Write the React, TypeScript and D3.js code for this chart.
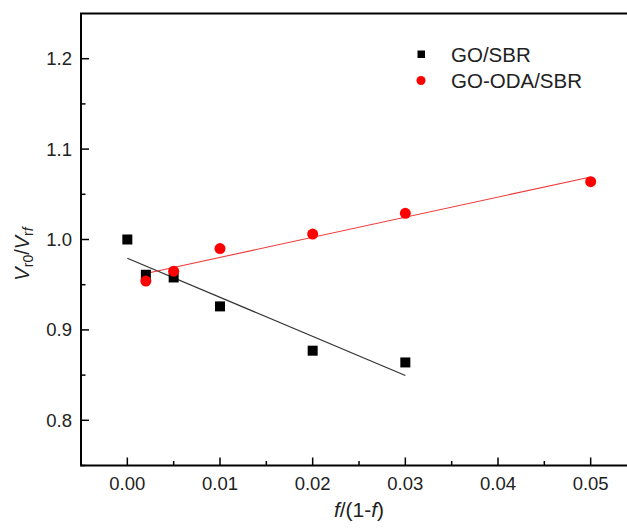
import React from "react";
import * as d3 from "d3";

const goX = [0, 0.002, 0.005, 0.01, 0.02, 0.03];
const goY = [1.0, 0.961, 0.958, 0.926, 0.877, 0.864];
const odaX = [0.002, 0.005, 0.01, 0.02, 0.03, 0.05];
const odaY = [0.954, 0.965, 0.99, 1.006, 1.029, 1.064];
const xTicks = [0, 0.01, 0.02, 0.03, 0.04, 0.05];
const xMinor = [-0.005, 0.005, 0.015, 0.025, 0.035, 0.045];
const yTicks = [0.8, 0.9, 1.0, 1.1, 1.2];
const yMinor = [0.75, 0.85, 0.95, 1.05, 1.15];
const seriesNames = ["GO/SBR", "GO-ODA/SBR"];

const W = 627;
const H = 528;
const FONT = "'Liberation Sans', Arial, sans-serif";

function fit(xs: number[], ys: number[]) {
  const mx = d3.mean(xs) as number;
  const my = d3.mean(ys) as number;
  let sxy = 0;
  let sxx = 0;
  xs.forEach((x, i) => {
    sxy += (x - mx) * (ys[i] - my);
    sxx += (x - mx) * (x - mx);
  });
  const b = sxy / sxx;
  const a = my - b * mx;
  const x0 = d3.min(xs) as number;
  const x1 = d3.max(xs) as number;
  return [
    [x0, a + b * x0],
    [x1, a + b * x1],
  ] as [number, number][];
}

export default function App() {
  const x = d3.scaleLinear().domain([-0.005, 0.055]).range([81, 637]);
  const y = d3.scaleLinear().domain([0.75, 1.25]).range([465.5, 13.5]);
  const line = d3
    .line<[number, number]>()
    .x((d) => x(d[0]))
    .y((d) => y(d[1]));
  const goFit = fit(goX, goY);
  const odaFit = fit(odaX, odaY);
  const x0 = x.range()[0];
  const y0 = y.range()[0];
  const y1 = y.range()[1];
  const xEdge = W + 2;

  return (
    <div
      style={{
        position: "fixed",
        left: 0,
        top: 0,
        width: W,
        height: H,
        overflow: "hidden",
        background: "#fff",
      }}
    >
      <svg
        width={W}
        height={H}
        style={{ display: "block", overflow: "hidden" }}
        fontFamily={FONT}
      >
        <rect x={0} y={0} width={W} height={H} fill="#fff" />
        {/* fit lines */}
        <path d={line(goFit) || ""} stroke="#333" strokeWidth={1.2} fill="none" />
        <path d={line(odaFit) || ""} stroke="#f03a3a" strokeWidth={1.1} fill="none" />
        {/* markers */}
        {goX.map((v, i) => (
          <rect
            key={"g" + i}
            x={x(v) - 5}
            y={y(goY[i]) - 5}
            width={10}
            height={10}
            fill="#000"
          />
        ))}
        {odaX.map((v, i) => (
          <circle key={"o" + i} cx={x(v)} cy={y(odaY[i])} r={5.5} fill="#ff0000" />
        ))}
        {/* frame: top, left, bottom (right edge lies outside the picture) */}
        <path
          d={`M${xEdge},${y1}H${x0}V${y0}H${xEdge}`}
          fill="none"
          stroke="#000"
          strokeWidth={2}
        />
        {/* x ticks */}
        {xTicks.map((t) => (
          <g key={"xt" + t}>
            <line x1={x(t)} x2={x(t)} y1={y0} y2={y0 - 8} stroke="#000" strokeWidth={1.5} />
            <text x={x(t)} y={490} textAnchor="middle" fontSize={18.5} fill="#222">
              {t.toFixed(2)}
            </text>
          </g>
        ))}
        {xMinor.map((t) => (
          <line key={"xm" + t} x1={x(t)} x2={x(t)} y1={y0} y2={y0 - 4.5} stroke="#000" strokeWidth={1.5} />
        ))}
        {/* y ticks */}
        {yTicks.map((t) => (
          <g key={"yt" + t}>
            <line x1={x0} x2={x0 + 8} y1={y(t)} y2={y(t)} stroke="#000" strokeWidth={1.5} />
            <text x={72} y={y(t)} dy="0.35em" textAnchor="end" fontSize={18.5} fill="#222">
              {t.toFixed(1)}
            </text>
          </g>
        ))}
        {yMinor.map((t) => (
          <line key={"ym" + t} x1={x0} x2={x0 + 4.5} y1={y(t)} y2={y(t)} stroke="#000" strokeWidth={1.5} />
        ))}
        {/* x title */}
        <text x={359} y={517} textAnchor="middle" fontSize={21} fill="#222">
          <tspan fontStyle="italic">f</tspan>
          <tspan>/(1-</tspan>
          <tspan fontStyle="italic">f</tspan>
          <tspan>)</tspan>
        </text>
        {/* y title */}
        <text
          transform={`translate(29,254) rotate(-90)`}
          textAnchor="middle"
          fontSize={20}
          fill="#222"
        >
          <tspan fontStyle="italic">V</tspan>
          <tspan fontSize={14} dy={4}>r0</tspan>
          <tspan dy={-4}>/</tspan>
          <tspan fontStyle="italic">V</tspan>
          <tspan fontSize={14} dy={4}>r</tspan>
          <tspan fontSize={14} fontStyle="italic">f</tspan>
        </text>
        {/* legend */}
        <rect x={417.5} y={50.5} width={7.5} height={7.5} fill="#000" />
        <text x={451} y={62} fontSize={20.5} fill="#222">
          {seriesNames[0]}
        </text>
        <circle cx={421} cy={80.5} r={4.5} fill="#ff0000" />
        <text x={451} y={88} fontSize={20.5} fill="#222">
          {seriesNames[1]}
        </text>
      </svg>
    </div>
  );
}
